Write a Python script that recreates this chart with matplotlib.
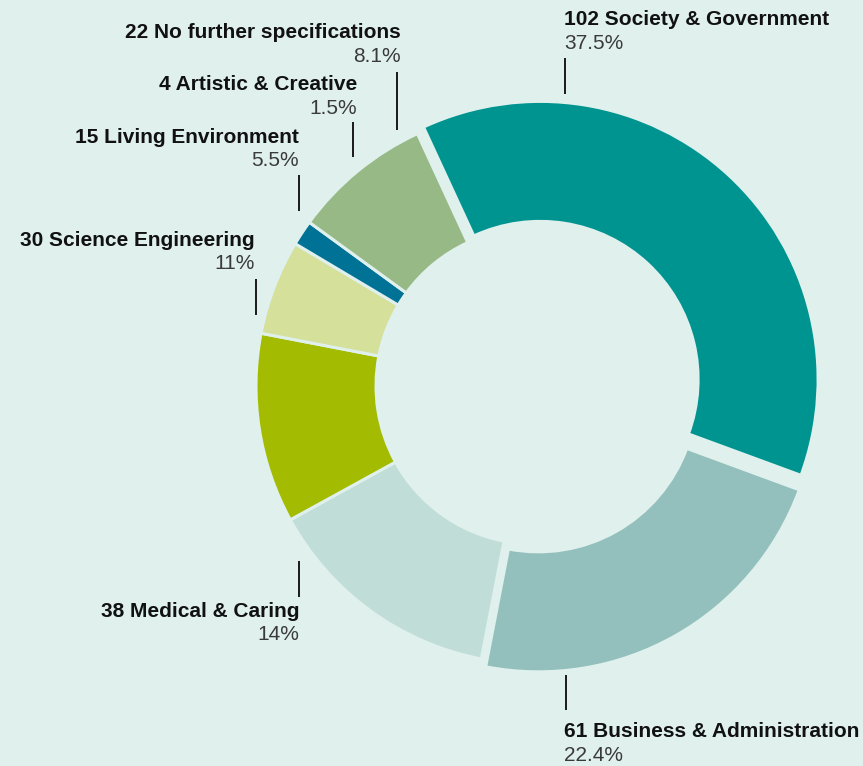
import matplotlib
matplotlib.use("Agg")
import matplotlib.pyplot as plt

# ---- data ----
categories = ["Society & Government", "Business & Administration", "Medical & Caring",
              "Science Engineering", "Living Environment", "Artistic & Creative",
              "No further specifications"]
counts = [102, 61, 38, 30, 15, 4, 22]
colors = ["#009490", "#93c0bc", "#c0ddd8", "#a3bb00", "#d5e09a", "#007296", "#97b986"]
explode_px = [9, 9, 0, 0, 0, 0, 0]

# ---- layout (pixel space, y from top) ----
W, H = 863, 766
BG = "#dff0ed"
CX, CY = 534, 386
R_OUT, R_IN = 278, 158
# label anchor: x, bold baseline, pct baseline, ha, tick x, tick y0, tick y1
label_layout = [
    (564, 25, 49, "left", 565, 58, 94),
    (564, 737, 761, "left", 566, 675, 710),
    (299, 617, 640, "right", 299, 561, 597),
    (255, 246, 269, "right", 256, 279, 315),
    (299, 143, 166, "right", 299, 175, 211),
    (357, 90, 114, "right", 353, 122, 157),
    (401, 38, 62, "right", 397, 72, 130),
]

plt.rcParams["font.family"] = ["Liberation Sans", "DejaVu Sans"]

fig = plt.figure(figsize=(W / 100, H / 100), dpi=100, facecolor=BG)
ax = fig.add_axes([0, 0, 1, 1])
ax.set_facecolor(BG)

ax.pie(counts, colors=colors, explode=explode_px, startangle=114.8, counterclock=False,
       radius=R_OUT, center=(CX, H - CY),
       wedgeprops=dict(width=R_OUT - R_IN, edgecolor=BG, linewidth=2.2))

total = sum(counts)
for cat, cnt, lay in zip(categories, counts, label_layout):
    x, yb, yp, ha, tx, ty0, ty1 = lay
    pct = round(cnt / total * 100, 1)
    pct_s = (f"{pct:.0f}" if abs(pct - round(pct)) < 1e-9 else f"{pct:.1f}") + "%"
    ax.text(x, H - yb, f"{cnt} {cat}", ha=ha, va="baseline", fontsize=15,
            fontweight="bold", color="#111111")
    ax.text(x, H - yp, pct_s, ha=ha, va="baseline", fontsize=15, color="#3a3a3a")
    ax.plot([tx, tx], [H - ty0, H - ty1], color="#1a1a1a", lw=1.4, solid_capstyle="butt")

ax.set_xlim(0, W)
ax.set_ylim(0, H)
ax.set_aspect("equal", adjustable="box")
ax.set_axis_off()

fig.savefig("out.png", dpi=100, facecolor=BG)
